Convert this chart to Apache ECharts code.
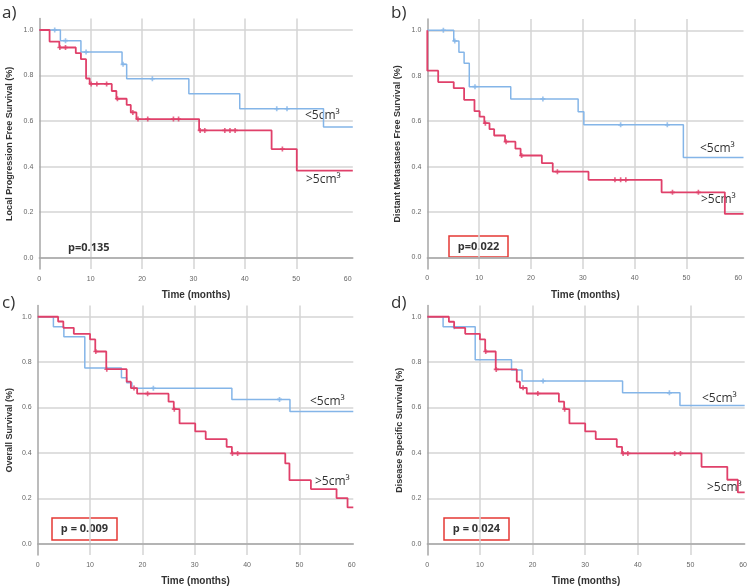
<!DOCTYPE html>
<html>
<head>
<meta charset="utf-8">
<script src="https://cdn.jsdelivr.net/npm/echarts@6/dist/echarts.min.js"></script>
<style>
  html, body { margin: 0; padding: 0; background: #fff; }
  #chart { width: 750px; height: 588px; }
</style>
</head>
<body>
<div id="chart"></div>
<script>
// tick labels
const xTickLabels = [0, 10, 20, 30, 40, 50, 60];
const xGridTicks = [10, 20, 30, 40, 50];
const yTickLabels = [0, 0.2, 0.4, 0.6, 0.8, 1.0];

// a) Local progression free survival
const aSmallTime = [0, 4.1, 8.1, 16.1, 17, 29.1, 39, 55.3];
const aSmallSurv = [1, 0.953, 0.903, 0.849, 0.786, 0.720, 0.654, 0.574];
const aSmallCens = [3, 5.1, 9.1, 16.3, 22, 46.2, 48.2];
const aLargeTime = [0, 2, 3.9, 7.1, 8.1, 9.1, 9.8, 14.1, 15, 17, 17.8, 18.9, 31.1, 45.2, 50.1];
const aLargeSurv = [1, 0.949, 0.923, 0.898, 0.872, 0.787, 0.763, 0.732, 0.698, 0.671, 0.638, 0.609, 0.559, 0.477, 0.382];
const aLargeCens = [4, 5.1, 10.1, 11.2, 13.1, 15.2, 18.2, 19.2, 21.1, 26.1, 27.1, 31.3, 32.2, 36.1, 37.1, 38.1, 47.3];

// b) Distant metastases free survival
const bSmallTime = [0, 5.1, 6.1, 7.1, 8.1, 16.1, 29.1, 30.2, 49.4];
const bSmallSurv = [1, 0.953, 0.903, 0.855, 0.752, 0.698, 0.642, 0.584, 0.44];
const bSmallCens = [3.1, 5.3, 9.2, 22.3, 37.3, 46.3];
const bLargeTime = [0, 0, 2.1, 5.1, 7.1, 9.1, 10.1, 11, 12, 12.9, 15, 17, 18, 22.1, 24.2, 31.1, 45.2, 57.4];
const bLargeSurv = [1, 0.822, 0.772, 0.745, 0.694, 0.644, 0.620, 0.591, 0.565, 0.537, 0.510, 0.479, 0.449, 0.415, 0.378, 0.342, 0.287, 0.192];
const bLargeCens = [11.2, 15.2, 18.2, 25.1, 36.2, 37.3, 38.3, 47.3, 52.3];

// c) Overall survival
const cSmallTime = [0, 3, 5, 9, 16, 17, 18, 37.1, 48.2];
const cSmallSurv = [1, 0.956, 0.912, 0.774, 0.731, 0.709, 0.685, 0.636, 0.583];
const cSmallCens = [22.1, 46.2];
const cLargeTime = [0, 3.9, 4.9, 6.9, 10, 11, 13.1, 17, 17.8, 19, 25, 26, 27.1, 30.1, 32.1, 36.1, 37.1, 47.3, 48.1, 52.2, 57.1, 59.2];
const cLargeSurv = [1, 0.979, 0.951, 0.925, 0.900, 0.847, 0.769, 0.714, 0.686, 0.661, 0.626, 0.593, 0.530, 0.495, 0.461, 0.427, 0.398, 0.354, 0.280, 0.241, 0.201, 0.160];
const cLargeCens = [11.1, 13.2, 18.4, 21, 26.1, 37.2, 38.2];

// d) Disease specific survival
const dSmallTime = [0, 3, 9.1, 16, 18, 37.1, 48];
const dSmallSurv = [1, 0.956, 0.811, 0.765, 0.717, 0.665, 0.609];
const dSmallCens = [5.1, 22, 46];
const dLargeTime = [0, 4.1, 5.1, 7.2, 10, 11, 13, 17, 17.6, 18.9, 25, 26, 27, 30, 32, 36, 37, 52.1, 57, 59];
const dLargeSurv = [1, 0.978, 0.951, 0.925, 0.900, 0.847, 0.768, 0.714, 0.687, 0.662, 0.626, 0.593, 0.530, 0.495, 0.461, 0.427, 0.398, 0.339, 0.282, 0.226];
const dLargeCens = [11.1, 13.1, 18.2, 21, 26.1, 37.2, 38.1, 47, 48.1];

const blue = '#84b5e8';
const red = '#e0406a';

const panels = [
  { grid: { left: 39.3, top: 18.6, width: 313.5, height: 250.5 }, xMax: 61,
    yName: 'Local Progression Free Survival (%)', nameGap: 25,
    small: [aSmallTime, aSmallSurv, aSmallCens], large: [aLargeTime, aLargeSurv, aLargeCens] },
  { grid: { left: 427.3, top: 18.9, width: 316.2, height: 250 }, xMax: 61,
    yName: 'Distant Metastases Free Survival (%)', nameGap: 25,
    small: [bSmallTime, bSmallSurv, bSmallCens], large: [bLargeTime, bLargeSurv, bLargeCens] },
  { grid: { left: 37.7, top: 305.4, width: 315.6, height: 249.7 }, xMax: 60.3,
    yName: 'Overall Survival (%)', nameGap: 24,
    small: [cSmallTime, cSmallSurv, cSmallCens], large: [cLargeTime, cLargeSurv, cLargeCens] },
  { grid: { left: 427.3, top: 305.4, width: 317.6, height: 249.7 }, xMax: 60.3,
    yName: 'Disease Specific Survival (%)', nameGap: 23,
    small: [dSmallTime, dSmallSurv, dSmallCens], large: [dLargeTime, dLargeSurv, dLargeCens] },
];

// survival value at time t (step function)
const survAt = (times, surv, t) => {
  let s = surv[0];
  for (let i = 0; i < times.length; i++) if (times[i] <= t) s = surv[i];
  return s;
};

const stepData = (times, surv, xMax) => {
  const d = times.map((t, i) => [t, surv[i]]);
  d.push([xMax, surv[surv.length - 1]]);
  return d;
};

const plus = 'path://M1,0H2V1H3V2H2V3H1V2H0V1H1Z';

const grids = [], xAxes = [], yAxes = [], series = [];
panels.forEach((p, i) => {
  grids.push(p.grid);
  xAxes.push({
    gridIndex: i, type: 'value', min: 0, max: p.xMax,
    name: 'Time (months)', nameLocation: 'middle', nameGap: 21,
    nameTextStyle: { fontFamily: 'Liberation Sans', fontWeight: 'bold', fontSize: 10, color: '#333' },
    axisLine: { lineStyle: { color: '#a6a6a6', width: 1.5 } },
    axisTick: { show: false, customValues: xGridTicks },
    axisLabel: { customValues: xTickLabels, fontSize: 7, color: '#666', margin: 6, fontFamily: 'Liberation Sans' },
    splitLine: { show: true, lineStyle: { color: '#d4d4d4', width: 1.5 } },
  });
  yAxes.push({
    gridIndex: i, type: 'value', min: -0.05, max: 1.05,
    name: p.yName, nameLocation: 'middle', nameGap: p.nameGap,
    nameTextStyle: { fontFamily: 'Liberation Sans', fontWeight: 'bold', fontSize: 9, color: '#333' },
    axisLine: { show: true, lineStyle: { color: '#a6a6a6', width: 1.5 } },
    axisTick: { show: false, customValues: yTickLabels },
    axisLabel: { customValues: yTickLabels, formatter: v => v.toFixed(1), fontSize: 7, color: '#666', margin: 6, fontFamily: 'Liberation Sans' },
    splitLine: { show: true, lineStyle: { color: '#d4d4d4', width: 1.5 } },
  });
  [[p.small, blue, 1.5], [p.large, red, 1.8]].forEach(([g, col, w]) => {
    const [times, surv, cens] = g;
    series.push({
      type: 'line', xAxisIndex: i, yAxisIndex: i, step: 'end',
      data: stepData(times, surv, p.xMax), showSymbol: false, symbol: 'none',
      lineStyle: { color: col, width: w }, silent: true, animation: false,
    });
    series.push({
      type: 'scatter', xAxisIndex: i, yAxisIndex: i, symbol: plus, symbolSize: 5,
      data: cens.map(t => [t, survAt(times, surv, t)]),
      itemStyle: { color: col }, silent: true, animation: false,
    });
  });
});

const labelFont = '12px "Open Sans"';
const txt = (x, y, text, font, extra) => Object.assign({
  type: 'text', x, y, style: { text, font, fill: '#333', align: 'left', verticalAlign: 'middle' }
}, extra || {});
const box = (x, y, w, h) => ({
  type: 'rect', shape: { x, y, width: w, height: h },
  style: { fill: 'none', stroke: '#e53935', lineWidth: 1.5 }
});
const ctr = (x, y, text) => ({
  type: 'text', x, y,
  style: { text, font: 'bold 11px "Open Sans"', fill: '#333', align: 'center', verticalAlign: 'middle' }
});

const graphic = [
  txt(2, 13, 'a)', '17px "Open Sans"'),
  txt(391, 13, 'b)', '17px "Open Sans"'),
  txt(2, 303, 'c)', '17px "Open Sans"'),
  txt(391, 303, 'd)', '17px "Open Sans"'),
  txt(305, 116, '<5cm³', labelFont),
  txt(306, 180, '>5cm³', labelFont),
  txt(700, 149, '<5cm³', labelFont),
  txt(701, 200, '>5cm³', labelFont),
  txt(310, 402, '<5cm³', labelFont),
  txt(315, 482, '>5cm³', labelFont),
  txt(702, 399, '<5cm³', labelFont),
  txt(707, 488, '>5cm³', labelFont),
  txt(68, 248, 'p=0.135', 'bold 11px "Open Sans"'),
  box(449, 236, 59, 21),
  ctr(478.5, 246.5, 'p=0.022'),
  box(52, 518, 65, 22),
  ctr(84.5, 529, 'p = 0.009'),
  box(444, 518, 65, 22),
  ctr(476.5, 529, 'p = 0.024'),
];

const chart = echarts.init(document.getElementById('chart'));
chart.setOption({
  backgroundColor: '#fff',
  animation: false,
  grid: grids,
  xAxis: xAxes,
  yAxis: yAxes,
  series: series,
  graphic: graphic,
});
</script>
</body>
</html>
